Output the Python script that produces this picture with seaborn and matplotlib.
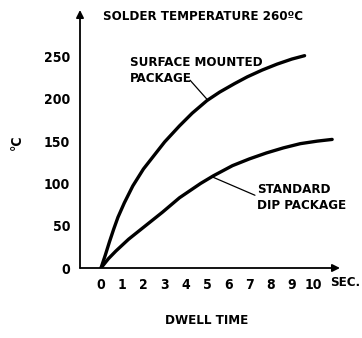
import matplotlib
matplotlib.use("Agg")
import matplotlib.pyplot as plt
import seaborn as sns
import pandas as pd

# values
smd_time = [0, 0.2, 0.4, 0.6, 0.8, 1.1, 1.5, 2.0, 2.5, 3.0, 3.7, 4.3, 5.0,
            5.6, 6.3, 6.9, 7.6, 8.3, 9.0, 9.6]
smd_temp = [0, 15, 31, 46, 60, 77, 97, 117, 133, 149, 168, 183, 198,
            208, 218, 226, 234, 241, 247, 251]
dip_time = [0, 0.35, 0.7, 1.0, 1.3, 1.8, 2.1, 2.9, 3.7, 4.7, 5.3, 6.2, 7.0,
            7.8, 8.6, 9.4, 10.2, 10.9]
dip_temp = [0, 11, 20, 27, 34, 44, 50, 66, 83, 100, 109, 121, 129,
            136, 142, 147, 150, 152]
x_ticks = list(range(0, 11))
y_ticks = [0, 50, 100, 150, 200, 250]

sns.set_theme(style="white")
plt.rcParams['font.family'] = ['DejaVu Sans']
plt.rcParams['font.stretch'] = 'condensed'
plt.rcParams['font.weight'] = 'bold'
for key in ['text.color', 'axes.labelcolor', 'xtick.color', 'ytick.color']:
    plt.rcParams[key] = 'black'

fig = plt.figure(figsize=(3.62, 3.38), dpi=100)
ax = fig.add_axes([80 / 362, 70 / 338, 260 / 362, 258 / 338])

smd = pd.DataFrame({'t': smd_time, 'T': smd_temp})
dip = pd.DataFrame({'t': dip_time, 'T': dip_temp})
sns.lineplot(data=smd, x='t', y='T', ax=ax, color='black', lw=2.4,
             sort=False, estimator=None)
sns.lineplot(data=dip, x='t', y='T', ax=ax, color='black', lw=2.4,
             sort=False, estimator=None)
for ln in ax.lines:
    ln.set_solid_capstyle('round')
    ln.set_solid_joinstyle('round')

ax.set_xlim(-0.99, 11.27)
ax.set_ylim(0, 305)
for s in ax.spines.values():
    s.set_visible(False)

# axes drawn as arrows
ax.annotate('', xy=(1, 0), xytext=(0, 0), xycoords='axes fraction',
            arrowprops=dict(arrowstyle='-|>', lw=1.3, color='black',
                            mutation_scale=11, shrinkA=0, shrinkB=0))
ax.annotate('', xy=(0, 1), xytext=(0, 0), xycoords='axes fraction',
            arrowprops=dict(arrowstyle='-|>', lw=1.3, color='black',
                            mutation_scale=11, shrinkA=0, shrinkB=0))

ax.set_xticks(x_ticks)
ax.set_yticks(y_ticks)
ax.tick_params(axis='x', direction='in', length=6, width=1.1, color='black',
               pad=7, labelsize=10)
ax.tick_params(axis='y', direction='in', length=8, width=1.1, color='black',
               pad=7, labelsize=10)
ax.set_xlabel('')
ax.set_ylabel('')

ax.text(1.37, 251, 'SURFACE MOUNTED\nPACKAGE', fontsize=9.5,
        fontweight='bold', va='top', ha='left', linespacing=1.3)
ax.annotate('', xy=(5.05, 198), xytext=(4.2, 222),
            arrowprops=dict(arrowstyle='-', lw=0.9, color='black',
                            shrinkA=0, shrinkB=0))
ax.text(7.36, 101, 'STANDARD\nDIP PACKAGE', fontsize=9.5, fontweight='bold',
        va='top', ha='left', linespacing=1.3)
ax.annotate('', xy=(5.22, 108), xytext=(7.26, 86),
            arrowprops=dict(arrowstyle='-', lw=0.9, color='black',
                            shrinkA=0, shrinkB=0))

fig.text(103 / 362, 1 - 17 / 338, 'SOLDER TEMPERATURE 260ºC', fontsize=9.5,
         fontweight='bold', va='center', ha='left')
fig.text(17 / 362, 1 - 142 / 338, '°C', fontsize=10, fontweight='bold',
         va='center', ha='center', rotation=90)
fig.text(330 / 362, 1 - 283 / 338, 'SEC.', fontsize=9.5, fontweight='bold',
         va='center', ha='left')
fig.text(207 / 362, 1 - 320 / 338, 'DWELL TIME', fontsize=9.5,
         fontweight='bold', va='center', ha='center')

fig.savefig('out.png', dpi=100)
